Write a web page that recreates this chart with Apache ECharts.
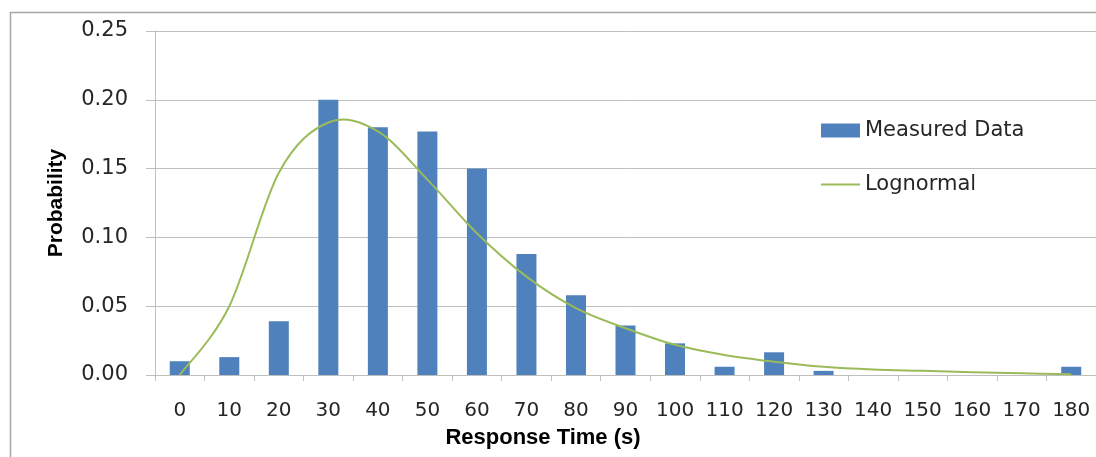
<!DOCTYPE html>
<html>
<head>
<meta charset="utf-8">
<script src="https://cdn.jsdelivr.net/npm/echarts@6/dist/echarts.min.js"></script>
<style>
html,body{margin:0;padding:0;background:#fff;}
#c{width:1096px;height:457px;}
</style>
</head>
<body>
<div id="c"></div>
<script>
const categories = ['0','10','20','30','40','50','60','70','80','90','100','110','120','130','140','150','160','170','180'];
const measured = [0.010,0.013,0.039,0.200,0.180,0.177,0.150,0.088,0.058,0.036,0.023,0.006,0.0165,0.003,0,0,0,0,0.006];
const lognormal = [0.000,0.050,0.147,0.1835,0.177,0.142,0.103,0.0715,0.0486,0.034,0.022,0.0146,0.0097,0.006,0.004,0.003,0.002,0.0012,0.0006];
const yTicks = {min:0, max:0.25, interval:0.05};

const chart = echarts.init(document.getElementById('c'), null, {renderer:'canvas'});
const labelColor = '#262626';
const gridColor = '#BFBFBF';
const lineColor = '#9BBB59';

// Smooth curve (Excel-like Catmull-Rom Bezier) through the lognormal points, positioned by the axes.
function renderCurve(params, api) {
  if (params.dataIndex !== 0) return null;
  const pts = lognormal.map((v, i) => api.coord([i, v]));
  const n = pts.length;
  let d = 'M' + pts[0][0] + ',' + pts[0][1];
  for (let i = 0; i < n - 1; i++) {
    const p0 = pts[Math.max(i - 1, 0)], p1 = pts[i], p2 = pts[i + 1], p3 = pts[Math.min(i + 2, n - 1)];
    const c1x = p1[0] + (p2[0] - p0[0]) / 6, c1y = p1[1] + (p2[1] - p0[1]) / 6;
    const c2x = p2[0] - (p3[0] - p1[0]) / 6, c2y = p2[1] - (p3[1] - p1[1]) / 6;
    d += ' C' + c1x + ',' + c1y + ' ' + c2x + ',' + c2y + ' ' + p2[0] + ',' + p2[1];
  }
  return {type:'path', shape:{pathData:d}, style:{fill:'none', stroke:lineColor, lineWidth:2}};
}

chart.setOption({
  animation:false,
  backgroundColor:'#fff',
  grid:{left:155, top:31, width:942, height:344},
  legend:{
    orient:'vertical', left:821, top:120, itemGap:33, padding:0,
    itemWidth:39, itemHeight:14, itemStyle:{borderWidth:0},
    textStyle:{fontFamily:'DejaVu Sans', fontSize:21, color:labelColor},
    data:[
      {name:'Measured Data', icon:'rect'},
      {name:'Lognormal', icon:'path://M0,0 M0,6 L39,6 L39,8 L0,8 Z M39,14'}
    ]
  },
  xAxis:{
    type:'category', data:categories, boundaryGap:true,
    axisLine:{show:true, lineStyle:{color:gridColor, width:1}},
    axisTick:{show:true, length:6, lineStyle:{color:gridColor}},
    axisLabel:{color:labelColor, fontFamily:'DejaVu Sans', fontSize:20, margin:26, interval:0},
    splitLine:{show:false}
  },
  yAxis:{
    type:'value', min:yTicks.min, max:yTicks.max, interval:yTicks.interval,
    name:'Probability', nameLocation:'middle', nameGap:88, nameRotate:90,
    nameTextStyle:{fontFamily:'Liberation Sans', fontWeight:'bold', fontSize:21, color:'#000'},
    axisLine:{show:true, lineStyle:{color:gridColor, width:1}},
    axisTick:{show:true, length:9, lineStyle:{color:gridColor}},
    axisLabel:{color:labelColor, fontFamily:'DejaVu Sans', fontSize:21, margin:27, formatter:v=>v.toFixed(2)},
    splitLine:{show:true, lineStyle:{color:gridColor, width:1}}
  },
  graphic:[
    {type:'rect', shape:{x:10.5,y:12.5,width:1100,height:460}, style:{fill:'none', stroke:'#A6A6A6', lineWidth:1.5}, silent:true, z:-1},
    {type:'text', x:543, y:438, style:{text:'Response Time (s)', fontFamily:'Liberation Sans', fontWeight:'bold', fontSize:22, fill:'#000', textAlign:'center', textVerticalAlign:'middle'}}
  ],
  series:[
    {name:'Measured Data', type:'bar', data:measured, barWidth:20, itemStyle:{color:'#4F81BD'}},
    {name:'Lognormal', type:'custom', renderItem:renderCurve, data:lognormal.map((v,i)=>[i,v]), encode:{x:0,y:1}, itemStyle:{color:lineColor}, clip:false, z:3}
  ]
});
</script>
</body>
</html>
